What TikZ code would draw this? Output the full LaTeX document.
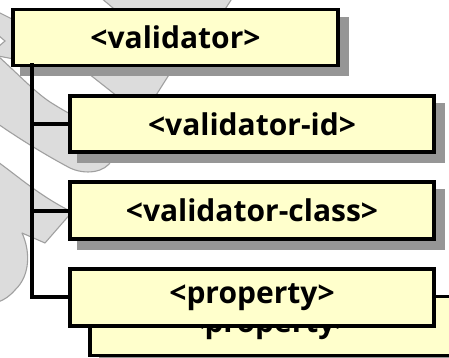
\documentclass[tikz,border=0pt]{standalone}
\usepackage{fontspec}
\setmainfont{Open Sans}
\definecolor{boxfill}{HTML}{FFFFCC}
\definecolor{shadowgray}{HTML}{969696}
\definecolor{ribbonfill}{HTML}{DCDCDC}
\definecolor{ribbonline}{HTML}{A0A0A0}
\tikzset{
  ribbon/.style={fill=ribbonfill, draw=ribbonline, line width=1.1pt, line join=round},
  tagbox/.style={rectangle, draw=black, fill=boxfill, line width=3.5pt, inner sep=0pt,
                 font=\fontsize{30}{34}\selectfont\bfseries},
  boxshadow/.style={fill=shadowgray, draw=none},
  branch/.style={draw=black, line width=3.5pt, line cap=rect}
}
\begin{document}
\begin{tikzpicture}[x=1pt, y=-1pt]
\useasboundingbox (0,0) rectangle (449,358);
\fill[white] (0,0) rectangle (449,358);

% faded ribbon artwork in the background
\begin{scope}
\clip (0,0) rectangle (449,358);
% top-left strip with notch
\filldraw[ribbon] (-2,12) -- (30,28) -- (30,62) -- (-2,56) -- cycle;
\filldraw[fill=white, draw=ribbonline, line width=1.1pt] (-2,35) -- (5,41) -- (-2,47);
% band passing behind the top box
\filldraw[ribbon] (100,-3) -- (233,-3) -- (222,14) -- (120,14) -- cycle;
\filldraw[ribbon] (84,70) -- (172,70) -- (153,100) -- (122,100) -- cycle;
% upper ribbon with rounded end
\filldraw[ribbon] (-2,56) .. controls (20,76) and (35,92) .. (50,102)
   .. controls (58,107) and (66,112) .. (78,118)
   -- (112,150) -- (112,160)
   .. controls (105,173) and (85,175) .. (70,168)
   .. controls (55,160) and (30,146) .. (-2,124) -- cycle;
% lower ribbon with notch and bulge
\filldraw[ribbon] (-2,162) .. controls (20,178) and (40,196) .. (72,212)
   -- (45,243) -- (22,233)
   .. controls (30,250) and (31,275) .. (15,290)
   .. controls (10,296) and (4,300) .. (-2,302) -- cycle;
\end{scope}

% shadows
\fill[boxshadow] (20,17) rectangle (349,76);
\fill[boxshadow] (77,103) rectangle (445,163);
\fill[boxshadow] (77,189) rectangle (445,250);

\node[tagbox, minimum width=325pt, minimum height=56pt] (val) at (175.5,37.5) {<validator>};
\coordinate (trunk) at (32,65);
\coordinate (j1) at (32,124);
\coordinate (j2) at (32,211);
\coordinate (j3) at (32,297);

% back copy of the property box
\fill[boxshadow] (99,305) rectangle (480,365);
\node[tagbox, minimum width=380pt, minimum height=59pt] (propb) at (280,326) {\hspace*{-20pt}<property>};

\node[tagbox, minimum width=364pt, minimum height=56pt] (vid) at (252,124) {<validator-id>};
\node[tagbox, minimum width=364pt, minimum height=57pt] (vcl) at (252,210.5) {<validator-class>};

% tree connectors
\draw[branch] (trunk) -- (j3) -- (j3 -| vid.west);
\draw[branch] (j1) -- (j1 -| vid.west);
\draw[branch] (j2) -- (j2 -| vcl.west);

\node[tagbox, minimum width=364pt, minimum height=57pt] (propf) at (252,297.5) {<property>};
\end{tikzpicture}
\end{document}
